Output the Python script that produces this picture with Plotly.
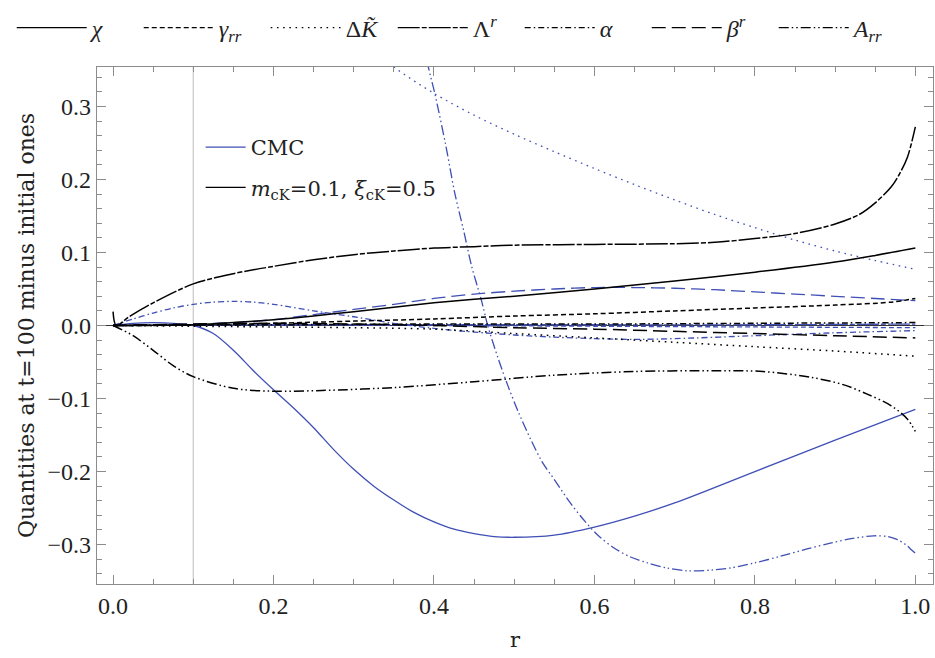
import plotly.graph_objects as go

# ---------------- data ----------------
# black curves: m_cK=0.1, xi_cK=0.5
r_chi_k = [0, 0.05, 0.1, 0.15, 0.2, 0.25, 0.3, 0.35, 0.4, 0.45, 0.5, 0.6, 0.7, 0.8, 0.9, 0.95, 1.0]
chi_k = [0, 0.0003, 0.001, 0.004, 0.008, 0.013, 0.019, 0.025, 0.031, 0.036, 0.040, 0.050, 0.061, 0.073, 0.087, 0.096, 0.106]

r_grr_k = [0, 0.1, 0.2, 0.3, 0.4, 0.5, 0.6, 0.7, 0.8, 0.9, 0.97, 1.0]
grr_k = [0, 0.0005, 0.003, 0.006, 0.009, 0.013, 0.016, 0.020, 0.024, 0.028, 0.032, 0.037]

r_dK_k = [0, 0.1, 0.2, 0.3, 0.4, 0.5, 0.6, 0.7, 0.8, 0.9, 1.0]
dK_k = [0, -0.001, -0.002, -0.003, -0.005, -0.011, -0.017, -0.023, -0.029, -0.035, -0.042]

r_lam_k = [0, 0.004, 0.02, 0.05, 0.1, 0.15, 0.2, 0.25, 0.3, 0.35, 0.4, 0.45, 0.5, 0.6, 0.7,
           0.75, 0.8, 0.85, 0.9, 0.93, 0.95, 0.97, 0.98, 0.99, 1.0]
lam_k = [0.019, 0.0, 0.012, 0.031, 0.057, 0.071, 0.081, 0.090, 0.097, 0.102, 0.106, 0.108, 0.110, 0.111, 0.112,
         0.114, 0.119, 0.126, 0.139, 0.152, 0.168, 0.190, 0.207, 0.230, 0.272]

r_alp_k = [0, 0.2, 0.4, 0.6, 0.8, 1.0]
alp_k = [0, 0.001, 0.002, 0.002, 0.003, 0.004]

r_bet_k = [0, 0.1, 0.2, 0.3, 0.4, 0.5, 0.6, 0.7, 0.8, 0.9, 1.0]
bet_k = [0, 0.002, 0.003, 0.002, 0.0, -0.003, -0.005, -0.008, -0.011, -0.014, -0.017]

r_arr_k = [0, 0.025, 0.05, 0.075, 0.1, 0.15, 0.2, 0.26, 0.35, 0.45, 0.55, 0.65, 0.75, 0.81, 0.87,
           0.91, 0.94, 0.97, 0.99, 1.0]
arr_k = [0, -0.014, -0.034, -0.055, -0.070, -0.086, -0.090, -0.089, -0.085, -0.077, -0.068, -0.063, -0.062,
         -0.063, -0.071, -0.081, -0.094, -0.110, -0.128, -0.145]

# blue curves: CMC
r_chi_c = [0, 0.025, 0.05, 0.075, 0.1, 0.125, 0.15, 0.175, 0.2, 0.225, 0.25, 0.275, 0.3, 0.325, 0.35,
           0.375, 0.4, 0.425, 0.45, 0.475, 0.5, 0.55, 0.6, 0.65, 0.7, 0.8, 0.9, 1.0]
chi_c = [0, 0.003, 0.004, 0.003, 0.0, -0.011, -0.034, -0.062, -0.088, -0.113, -0.140, -0.170, -0.197,
         -0.220, -0.239, -0.256, -0.269, -0.279, -0.285, -0.289, -0.290, -0.287, -0.276, -0.261, -0.243,
         -0.200, -0.157, -0.115]

r_grr_c = [0, 0.2, 0.4, 0.6, 0.8, 1.0]
grr_c = [0, 0.001, 0.0, -0.001, -0.002, -0.003]

r_dK_c = [0.25, 0.3, 0.35, 0.4, 0.45, 0.5, 0.55, 0.6, 0.65, 0.7, 0.75, 0.8, 0.85, 0.9, 0.95, 1.0]
dK_c = [0.46, 0.40, 0.354, 0.318, 0.288, 0.262, 0.238, 0.215, 0.193, 0.172, 0.152, 0.134, 0.117, 0.102, 0.089, 0.077]

r_lam_c = [0, 0.2, 0.4, 0.6, 0.8, 1.0]
lam_c = [0, 0.001, 0.001, 0.001, 0.001, 0.002]

r_alp_c = [0, 0.025, 0.05, 0.075, 0.1, 0.125, 0.15, 0.175, 0.2, 0.25, 0.3, 0.35, 0.4, 0.45, 0.5, 0.55,
           0.6, 0.65, 0.7, 0.8, 0.9, 1.0]
alp_c = [0, 0.009, 0.017, 0.024, 0.029, 0.032, 0.033, 0.032, 0.029, 0.020, 0.012, 0.003, -0.004, -0.009,
         -0.013, -0.016, -0.018, -0.019, -0.018, -0.014, -0.010, -0.007]

r_bet_c = [0, 0.05, 0.1, 0.15, 0.2, 0.25, 0.3, 0.35, 0.4, 0.45, 0.5, 0.55, 0.6, 0.65, 0.7, 0.75, 0.8,
           0.85, 0.9, 0.95, 1.0]
bet_c = [0, 0.001, 0.002, 0.004, 0.008, 0.015, 0.022, 0.029, 0.037, 0.043, 0.047, 0.050, 0.052, 0.052,
         0.051, 0.049, 0.046, 0.043, 0.040, 0.037, 0.034]

r_arr_c = [0.36, 0.38, 0.393, 0.401, 0.415, 0.426, 0.437, 0.447, 0.459, 0.467, 0.48, 0.492, 0.505, 0.521,
           0.535, 0.55, 0.57, 0.588, 0.605, 0.625, 0.645, 0.666, 0.69, 0.716, 0.745, 0.77, 0.8, 0.832,
           0.865, 0.894, 0.92, 0.948, 0.965, 0.977, 0.988, 0.995, 1.0]
arr_c = [0.54, 0.43, 0.354, 0.318, 0.245, 0.181, 0.130, 0.081, 0.035, 0.0, -0.045, -0.082, -0.118, -0.157,
         -0.187, -0.211, -0.243, -0.268, -0.288, -0.305, -0.317, -0.325, -0.332, -0.336, -0.335, -0.332,
         -0.325, -0.316, -0.306, -0.298, -0.292, -0.288, -0.289, -0.293, -0.300, -0.307, -0.312]

quantity_labels = ["<i>χ</i>", "<i>γ<sub>rr</sub></i>", "Δ<i>K̃</i>", "Λ<sup><i>r</i></sup>",
                   "<i>α</i>", "<i>β<sup>r</sup></i>", "<i>A<sub>rr</sub></i>"]
case_labels = ["CMC", "<i>m</i><sub>cK</sub>=0.1, <i>ξ</i><sub>cK</sub>=0.5"]
marker_r = 0.1  # vertical reference line

x_ticks = [0.0, 0.2, 0.4, 0.6, 0.8, 1.0]
y_ticks = [-0.3, -0.2, -0.1, 0.0, 0.1, 0.2, 0.3]

# ---------------- styling ----------------
BLUE = "#3f4fb5"
BLACK = "#000000"
FONT = "Liberation Serif"
WIDE = "DejaVu Serif"
FRAME = "#8c8c8c"
dashes = ["solid", "5px,3px", "1.6px,4.6px", "22px,2px,5px,2px",
          "6px,3px,1.5px,3px", "14px,6px", "10px,3px,1.5px,3px,1.5px,3px"]

black_sets = [(r_chi_k, chi_k), (r_grr_k, grr_k), (r_dK_k, dK_k), (r_lam_k, lam_k),
              (r_alp_k, alp_k), (r_bet_k, bet_k), (r_arr_k, arr_k)]
blue_sets = [(r_chi_c, chi_c), (r_grr_c, grr_c), (r_dK_c, dK_c), (r_lam_c, lam_c),
             (r_alp_c, alp_c), (r_bet_c, bet_c), (r_arr_c, arr_c)]

fig = go.Figure()

for (rx, ry), dash in zip(blue_sets, dashes):
    fig.add_trace(go.Scatter(x=rx, y=ry, mode="lines", showlegend=False, hoverinfo="skip",
                             line=dict(color=BLUE, width=1.3, dash=dash, shape="spline", smoothing=0.9)))
for (rx, ry), dash in zip(black_sets, dashes):
    fig.add_trace(go.Scatter(x=rx, y=ry, mode="lines", showlegend=False, hoverinfo="skip",
                             line=dict(color=BLACK, width=1.5, dash=dash, shape="spline", smoothing=0.9)))

# top legend: line styles
for lab, dash in zip(quantity_labels, dashes):
    fig.add_trace(go.Scatter(x=[None], y=[None], mode="lines", name=lab, legend="legend",
                             line=dict(color=BLACK, width=1.4, dash=dash)))
# inner legend: cases
for i, (lab, col) in enumerate(zip(case_labels, [BLUE, BLACK])):
    fig.add_trace(go.Scatter(x=[None], y=[None], mode="lines", name=lab, legend="legend2",
                             legendgroup=f"case{i}", line=dict(color=col, width=1.4)))

fig.add_vline(x=marker_r, line=dict(color="#c8c8c8", width=1.2), layer="below")

axis_common = dict(showline=True, linecolor=FRAME, linewidth=1.2, mirror="ticks",
                   ticks="inside", tickcolor=FRAME, ticklen=9, tickwidth=1,
                   showgrid=False, automargin=False,
                   tickfont=dict(family=FONT, size=24, color="#222"))

fig.update_layout(
    template="none",
    width=935, height=658,
    margin=dict(l=97, r=2, t=67, b=74),
    paper_bgcolor="white", plot_bgcolor="white",
    font=dict(family=FONT, size=20, color="#222"),
    xaxis=dict(range=[-0.02, 1.022], tickvals=x_ticks, tickformat=".1f", zeroline=False,
               minor=dict(dtick=0.05, ticks="inside", ticklen=5, tickcolor=FRAME, showgrid=False),
               title=dict(text="r", font=dict(family=WIDE, size=21), standoff=14),
               **axis_common),
    yaxis=dict(range=[-0.354, 0.354], tickvals=y_ticks, tickformat=".1f",
               zeroline=True, zerolinecolor="#333333", zerolinewidth=1.2,
               minor=dict(dtick=0.02, ticks="inside", ticklen=5, tickcolor=FRAME, showgrid=False),
               title=dict(text="Quantities at t=100 minus initial ones", font=dict(family=WIDE, size=22),
                          standoff=6),
               **axis_common),
    legend=dict(orientation="h", xref="paper", x=-0.102, xanchor="left",
                yref="paper", y=1.0754, yanchor="middle",
                itemwidth=70, entrywidth=42, entrywidthmode="pixels",
                font=dict(family=FONT, size=24, color="#222"), bgcolor="rgba(0,0,0,0)"),
    legend2=dict(x=0.124, y=0.884, xanchor="left", yanchor="top", itemwidth=40,
                 tracegroupgap=10, font=dict(family=WIDE, size=21, color="#222"),
                 bgcolor="rgba(0,0,0,0)"),
)

fig.write_html("out.html", config={"displayModeBar": False})

# remove the browser's default page margin so the figure sits at the window origin
with open("out.html", "r", encoding="utf-8") as fh:
    page = fh.read()
page = page.replace("<head>", "<head><style>html,body{margin:0;padding:0;overflow:hidden;}</style>", 1)
with open("out.html", "w", encoding="utf-8") as fh:
    fh.write(page)
